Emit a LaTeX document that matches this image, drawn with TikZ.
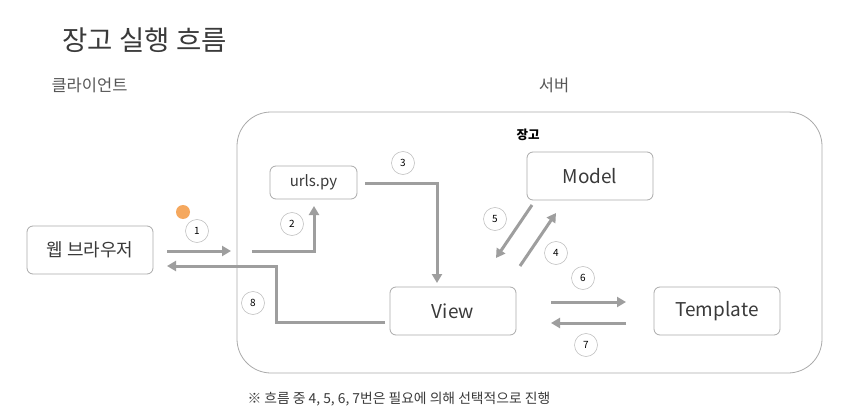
\documentclass[tikz,border=0pt]{standalone}
\usepackage{fontspec}
\setmainfont{Noto Sans CJK KR}
\usetikzlibrary{arrows.meta}
\definecolor{arr}{HTML}{9E9E9E}
\definecolor{bord}{HTML}{AAAAAA}
\definecolor{txt}{HTML}{3A3A3A}
\definecolor{dot}{HTML}{F5A85E}
\begin{document}
\begin{tikzpicture}[x=1pt,y=-1pt,
  box/.style={draw=bord,line width=0.8pt,rounded corners=6pt,fill=white,text=txt,font=\fontsize{19}{22}\selectfont,inner sep=0pt},
  num/.style={circle,draw=bord!70,line width=0.6pt,minimum size=23pt,inner sep=0pt,font=\fontsize{10}{12}\selectfont,text=black},
  flow/.style={draw=arr,line width=3pt,-{Triangle[length=9pt,width=10pt]}}
]
\useasboundingbox (0,0) rectangle (844,412);
\fill[white] (0,0) rectangle (844,412);
% titles
\node[text=txt,font=\fontsize{27.5}{32}\selectfont,anchor=west] (title) at (59,40) {장고 실행 흐름};
\node[text=txt!85,font=\fontsize{16.5}{19}\selectfont,anchor=west] (client) at (48,85) {클라이언트};
\node[text=txt!85,font=\fontsize{16.5}{19}\selectfont] (server) at (554,85) {서버};
% server frame
\node[draw=bord,line width=0.8pt,rounded corners=34pt,minimum width=585pt,minimum height=261pt,inner sep=0pt] (frame) at (529.5,242.5) {};
\node[text=black,font=\fontsize{12.5}{14}\selectfont\bfseries] (django) at (528,135) {장고};
% boxes
\node[box,minimum width=126pt,minimum height=48pt,font=\fontsize{18}{21}\selectfont] (browser) at (90,250) {웹 브라우저};
\node[box,minimum width=87pt,minimum height=33pt,font=\fontsize{15}{18}\selectfont] (urls) at (313.5,182.5) {urls.py};
\node[box,minimum width=126pt,minimum height=48pt] (model) at (590,176) {Model};
\node[box,minimum width=126pt,minimum height=48pt] (view) at (453,311) {View};
\node[box,minimum width=126pt,minimum height=48pt] (template) at (717,311) {Template};
% connector endpoints
\coordinate (a1s) at (167,251); \coordinate (a1e) at (231,251);
\coordinate (a2s) at (252,251); \coordinate (a2c) at (314,251); \coordinate (a2e) at (314,206);
\coordinate (a3s) at (365,183); \coordinate (a3c) at (437,183); \coordinate (a3e) at (437,283);
\coordinate (a8s) at (385,322); \coordinate (a8c1) at (276,322); \coordinate (a8c2) at (276,266); \coordinate (a8e) at (167,266);
\coordinate (a5s) at (532,205); \coordinate (a5e) at (496,258);
\coordinate (a4s) at (520,266); \coordinate (a4e) at (556,213);
\coordinate (a6s) at (551,302); \coordinate (a6e) at (626,302);
\coordinate (a7s) at (626,323); \coordinate (a7e) at (551,323);
\draw[flow] (a1s) -- (a1e);
\draw[flow] (a2s) -- (a2c) -- (a2e);
\draw[flow] (a3s) -- (a3c) -- (a3e);
\draw[flow] (a8s) -- (a8c1) -- (a8c2) -- (a8e);
\draw[flow] (a5s) -- (a5e);
\draw[flow] (a4s) -- (a4e);
\draw[flow] (a6s) -- (a6e);
\draw[flow] (a7s) -- (a7e);
% numbers
\node[num] (n1) at (197,231) {1};
\node[num] (n2) at (292,224) {2};
\node[num] (n3) at (403,163) {3};
\node[num] (n4) at (556,253) {4};
\node[num] (n5) at (495,219) {5};
\node[num] (n6) at (583,278) {6};
\node[num] (n7) at (586,345) {7};
\node[num] (n8) at (253,303) {8};
% cursor dot
\fill[dot] (183,212) circle (7pt);
% note
\node[text=txt,font=\fontsize{13.8}{16}\selectfont,anchor=west] (note) at (244,399) {※ 흐름 중 4, 5, 6, 7번은 필요에 의해 선택적으로 진행};
\end{tikzpicture}
\end{document}
